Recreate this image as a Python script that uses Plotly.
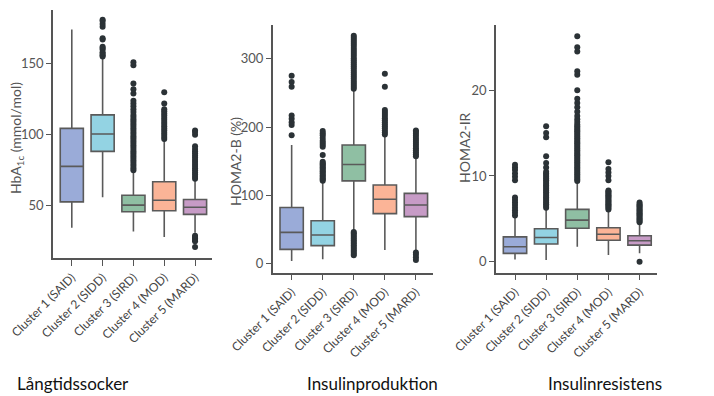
import plotly.graph_objects as go

categories = ["Cluster 1 (SAID)", "Cluster 2 (SIDD)", "Cluster 3 (SIRD)", "Cluster 4 (MOD)", "Cluster 5 (MARD)"]
colors = ["#9AABD8", "#93D3E3", "#8FBFA3", "#FBB497", "#C79BC6"]
panel_titles = ["Långtidssocker", "Insulinproduktion", "Insulinresistens"]
y_titles = ["HbA<sub>1c</sub> (mmol/mol)", "HOMA2-B (%)", "HOMA2-IR"]

# HbA1c (mmol/mol)
hba_q1 = [52.8, 88.3, 45.8, 46.5, 44.0]
hba_med = [77.8, 100.5, 50.5, 53.9, 49.0]
hba_q3 = [104.5, 114.0, 57.5, 67.0, 54.5]
hba_lo = [34.5, 56.0, 32.0, 28.0, 31.0]
hba_hi = [174.0, 155.0, 74.0, 96.5, 68.5]
hba_out = [
    [],
    [155, 156, 157, 158, 160, 161, 162, 167, 168, 176, 178, 180, 181],
    [75, 76.5, 78, 79.5, 81, 82.5, 84, 85.5, 87, 88.5, 90, 91.5, 93, 94.5, 96, 97.5, 99,
     100.5, 102, 103.5, 105, 106.5, 108, 109.5, 111, 112.5, 114, 116, 118, 120, 122, 124,
     129, 132, 136, 149, 151],
    [97, 98.5, 100, 101.5, 103, 104.5, 106, 107.5, 109, 110.5, 112, 113.5, 115, 116.5, 118,
     122, 130],
    [69, 70.5, 72, 73.5, 75, 76.5, 78, 79.5, 81, 82.5, 84, 85.5, 87, 88.5, 90, 92, 100, 102,
     103, 25, 26, 27, 28, 29, 21],
]

# HOMA2-B (%)
homab_q1 = [20.5, 26.0, 121.0, 73.0, 68.5]
homab_med = [45.5, 41.6, 145.0, 94.0, 85.6]
homab_q3 = [82.0, 62.6, 173.6, 115.0, 102.7]
homab_lo = [3.4, 6.0, 47.0, 19.6, 19.0]
homab_hi = [173.6, 120.0, 254.0, 188.0, 156.0]
homab_out = [
    [188, 203, 207, 212, 217, 259, 266, 275],
    [121, 123, 125, 127, 129, 131, 133, 135, 137, 139, 141, 143, 145, 147, 149, 159, 171,
     174, 177, 180, 184, 188, 191, 194],
    [256, 259, 262, 265, 268, 271, 274, 277, 280, 283, 286, 289, 292, 295, 298, 301, 304,
     307, 310, 313, 316, 319, 322, 325, 328, 331, 334,
     12, 14, 16.5, 19, 21.5, 24, 26.5, 29, 31.5, 34, 36.5, 39, 41.5, 44, 46],
    [189, 192, 195, 198, 201, 204, 207, 210, 213, 216, 219, 222, 225, 259, 278],
    [157, 160, 163, 166, 169, 172, 175, 178, 181, 184, 187, 190, 193, 195, 5, 9, 13, 16],
]

# HOMA2-IR
homair_q1 = [0.97, 2.06, 3.9, 2.5, 1.94]
homair_med = [1.75, 2.83, 4.85, 3.2, 2.45]
homair_q3 = [2.9, 3.84, 6.1, 3.96, 3.03]
homair_lo = [0.27, 0.2, 1.75, 0.78, 1.0]
homair_hi = [5.2, 6.2, 9.3, 6.0, 4.5]
homair_out = [
    [5.4, 5.7, 6.0, 6.3, 6.6, 6.9, 7.2, 7.5, 9.5, 9.9, 10.3, 10.7, 11.0, 11.3],
    [6.3, 6.5, 6.7, 6.9, 7.1, 7.3, 7.5, 7.7, 7.9, 8.1, 8.3, 8.5, 8.7, 8.9, 9.1, 9.3, 9.5,
     9.7, 9.9, 10.1, 10.3, 10.5, 11.0, 11.5, 12.3, 14.5, 15.0, 15.8],
    [9.4, 9.6, 9.8, 10.0, 10.2, 10.4, 10.6, 10.8, 11.0, 11.2, 11.4, 11.6, 11.8, 12.0, 12.2,
     12.4, 12.6, 12.8, 13.0, 13.2, 13.4, 13.6, 13.8, 14.0, 14.2, 14.4, 14.6, 14.8, 15.0,
     15.2, 15.4, 15.6, 15.8, 16.0, 16.3, 16.6, 17.0, 17.5, 18.0, 18.5, 19.0, 20.0, 21.8,
     22.2, 24.5, 25.0, 26.3],
    [6.1, 6.25, 6.4, 6.55, 6.7, 6.85, 7.0, 7.15, 7.3, 7.45, 7.6, 7.75, 7.9, 8.05, 8.2, 8.3,
     9.5, 10.0, 10.4, 10.8, 11.6],
    [4.6, 4.75, 4.9, 5.05, 5.2, 5.35, 5.5, 5.65, 5.8, 5.95, 6.1, 6.25, 6.4, 6.55, 6.7, 6.9,
     0.0],
]

panels = [
    (hba_q1, hba_med, hba_q3, hba_lo, hba_hi, hba_out),
    (homab_q1, homab_med, homab_q3, homab_lo, homab_hi, homab_out),
    (homair_q1, homair_med, homair_q3, homair_lo, homair_hi, homair_out),
]
y_ranges = [[13.3, 187.8], [-13.7, 349.6], [-1.28, 27.6]]
y_ticks = [[50, 100, 150], [0, 100, 200, 300], [0, 10, 20]]

W, H = 714, 396
# pixel boxes: (left, right, top, bottom)
px = [(53, 212, 10, 258), (272.7, 433, 25, 272.7), (496, 656.7, 25, 272.7)]
title_x = [16, 235, 464]
title_y = [138, 162, 148]
label_x = [15, 305, 546]

fig = go.Figure()
axis_color = "#555555"
font_fam = "Lato, 'Open Sans', sans-serif"

for p, (q1, med, q3, lo, hi, outs) in enumerate(panels):
    xa = "x" if p == 0 else f"x{p+1}"
    ya = "y" if p == 0 else f"y{p+1}"
    for i, cat in enumerate(categories):
        fig.add_trace(go.Box(
            x=[cat], q1=[q1[i]], median=[med[i]], q3=[q3[i]],
            lowerfence=[lo[i]], upperfence=[hi[i]],
            fillcolor=colors[i], line=dict(color="#5a5a5a", width=1.6),
            whiskerwidth=0, width=0.75, boxpoints=False,
            xaxis=xa, yaxis=ya, showlegend=False, hoverinfo="skip"))
        if outs[i]:
            fig.add_trace(go.Scatter(
                x=[cat] * len(outs[i]), y=outs[i], mode="markers",
                marker=dict(color="#2b3236", size=6),
                xaxis=xa, yaxis=ya, showlegend=False, hoverinfo="skip"))

layout = dict(width=W, height=H, margin=dict(l=0, r=0, t=0, b=0, autoexpand=False),
              paper_bgcolor="white", plot_bgcolor="white", showlegend=False,
              font=dict(family=font_fam, color=axis_color))
annotations = []
for p in range(3):
    l, r, t, b = px[p]
    sx = "" if p == 0 else str(p + 1)
    layout[f"xaxis{sx}"] = dict(
        domain=[l / W, r / W], anchor=f"y{sx}", type="category",
        categoryorder="array", categoryarray=categories, automargin=False,
        range=[-0.61, 4.55], showline=True, linecolor=axis_color, linewidth=1.5,
        ticks="outside", ticklen=6, tickcolor=axis_color, tickwidth=1.2,
        tickangle=-45, tickfont=dict(size=12, color="#444444"), showgrid=False,
        zeroline=False, fixedrange=True)
    layout[f"yaxis{sx}"] = dict(
        domain=[1 - b / H, 1 - t / H], anchor=f"x{sx}", range=y_ranges[p],
        tickvals=y_ticks[p], showline=True, linecolor=axis_color, linewidth=1.5,
        automargin=False,
        ticks="outside", ticklen=5, tickcolor=axis_color, tickwidth=1.2,
        tickfont=dict(size=13, color="#555555"), showgrid=False, zeroline=False,
        fixedrange=True)
    annotations.append(dict(
        text=y_titles[p], x=title_x[p] / W, y=1 - title_y[p] / H,
        xref="paper", yref="paper", textangle=-90, showarrow=False,
        xanchor="center", yanchor="middle", font=dict(size=14, color="#555555")))
    annotations.append(dict(
        text=panel_titles[p], x=label_x[p] / W, y=1 - 383 / H,
        xref="paper", yref="paper", showarrow=False, xanchor="left",
        yanchor="middle", font=dict(size=17, color="#111111")))
layout["annotations"] = annotations
fig.update_layout(**layout)
fig.write_html("out.html", config={"displayModeBar": False},
               post_script="document.body.style.margin='0';document.body.style.overflow='hidden';")
